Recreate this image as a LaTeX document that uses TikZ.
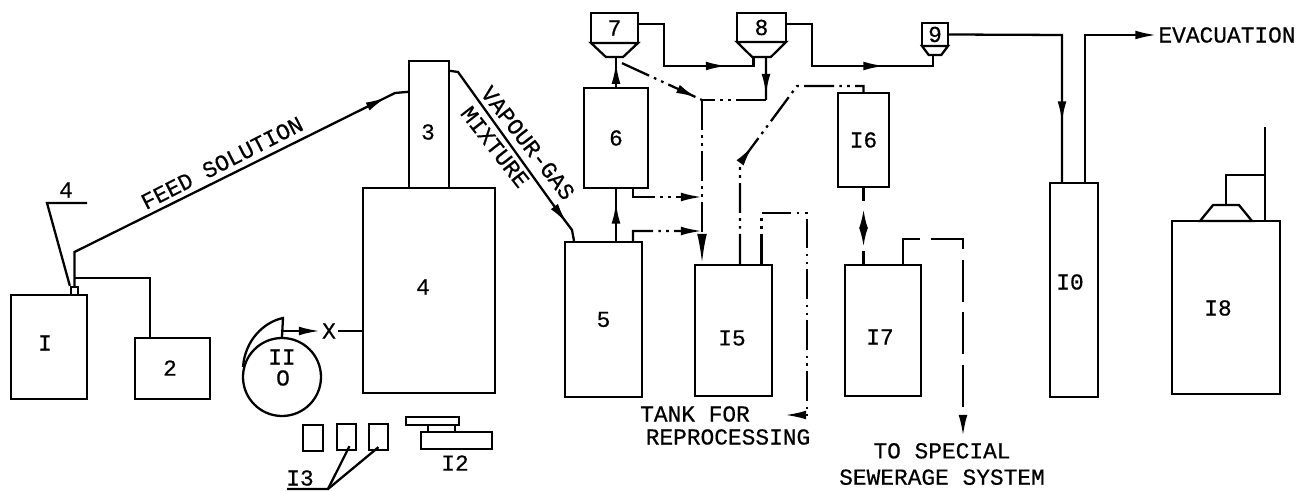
\documentclass[tikz,border=0pt]{standalone}
\usepackage{fontspec}
\setmainfont[FakeBold=0.5]{Liberation Mono}
\usetikzlibrary{arrows.meta,calc,decorations.markings,shapes.geometric}
\tikzset{
  box/.style 2 args={draw,line width=1.3pt,inner sep=0pt,minimum width=#1*0.02cm,minimum height=#2*0.02cm},
  funnel/.style n args={3}{draw,line width=1.3pt,inner sep=1pt,trapezium,trapezium stretches=true,
    trapezium angle=#3,minimum width=#1*0.02cm,minimum height=#2*0.02cm},
  pipe/.style={line width=1.3pt},
  dashdots/.style={pipe,dash pattern=on 17pt off 3pt on 1.5pt off 3pt on 1.5pt off 3pt},
  longdash/.style={pipe,dash pattern=on 24pt off 6pt},
  tip/.style={-{Latex[length=12pt,width=5pt]}},
  bigtip/.style={-{Latex[length=17pt,width=5.5pt]}},
  bothtips/.style={{Latex[length=11pt,width=5pt]}-{Latex[length=11pt,width=5pt]}},
  headat/.style={postaction={decorate,decoration={markings,
    mark=at position #1 with {\arrow{Latex[length=12pt,width=5pt]}}}}},
  lettering/.style={inner sep=1pt,font=\fontsize{13}{14}\selectfont}
}
\begin{document}
\begin{tikzpicture}[x=0.02cm,y=-0.02cm,every node/.append style={lettering}]
  \useasboundingbox (0,0) rectangle (1312,492);
  % feed side
  \node[box={76}{104}] (one) at (49,347) {};
  \node (onelabel) at (45,343) {I};
  \node[box={75}{61}] (two) at (172.5,368.5) {};
  \node (twolabel) at (170,368) {2};
  \node[box={7}{8}] (nozzle) at (74.5,291) {};
  \coordinate (tee) at (74.5,278);
  \node (leaderlabel) at (66,190) {4};
  \draw[pipe] (nozzle.north west) -- (47,203) -- (87,203);
  \draw[pipe] (tee) -- (150,278) -- ($(two.north)+(-22.5,0)$);
  \node[box={40}{127}] (three) at (429,124.5) {};
  \node (threelabel) at (428,132) {3};
  \node[box={132}{205}] (four) at (429,290.5) {};
  \node (fourlabel) at (423,287) {4};
  \draw[pipe,headat=0.945] (nozzle.north) -- (74.5,252) -- (395,93) -- ($(three.north west)+(0,32)$);
  \node[rotate=27] (feed) at (222,163) {FEED SOLUTION};
  % camera and recorder
  \node[box={78}{78},circle] (eleven) at (282,377) {};
  \node (elevenlabel) at (282,357) {II};
  \node (lens) at (283,378) {O};
  \draw[pipe] (eleven.north) -- (283,318) .. controls (264,322) and (245,340) .. (243,367);
  \coordinate (shroud) at (283,331);
  \node (xray) at (329,331) {X};
  \draw[pipe,tip] (shroud) -- (xray.west);
  \draw[pipe] (xray.east) -- (xray.east -| four.west);
  \node[box={20}{26}] (filma) at (313,438) {};
  \node[box={19}{26}] (filmb) at (346.5,437) {};
  \node[box={19}{26}] (filmc) at (378.5,437) {};
  \node (thirteen) at (300,478) {I3};
  \coordinate (thirteenend) at (287,489);
  \coordinate (thirteenfork) at (328,489);
  \draw[pipe] (thirteenend) -- (thirteenfork) -- ($(filmb.south)+(3,-5)$);
  \draw[pipe] (thirteenfork) -- ($(filmc.south)+(0,-4)$);
  \node[box={53}{8}] (plate) at (432.5,421) {};
  \node[box={27}{7}] (neck) at (441.5,428.5) {};
  \node[box={71}{17}] (twelve) at (456.5,440.5) {};
  \node (twelvelabel) at (455,463) {I2};
  % scrubbers
  \node[box={77}{155}] (five) at (603.5,319.5) {5};
  \node[box={64}{100}] (six) at (616,138) {6};
  \node[box={47}{30}] (seven) at (614.5,28) {7};
  \node[funnel={47}{14}{49},shape border rotate=180] (sevenf) at (614.5,50) {};
  \node[box={49}{29}] (eight) at (761.5,27.5) {8};
  \node[funnel={49}{15}{51},shape border rotate=180] (eightf) at (761.5,49.5) {};
  \node[box={26}{23}] (nine) at (935,34.5) {9};
  \node[funnel={26}{9}{62},shape border rotate=180] (ninef) at (935,50.5) {};
  \draw[pipe,headat=0.91] ($(three.north east)+(0,11)$) -- (458,72) -- (557,210) -- (572,230) -- ($(five.north)+(-29.5,0)$);
  \node[rotate=-52] (vapour) at (528,143) {VAPOUR-GAS};
  \node[rotate=-52] (mixture) at (495,147) {MIXTURE};
  \draw[pipe,headat=0.74] (six.south |- five.north) -- (six.south);
  \draw[pipe,headat=0.84] (six.north) -- (six.north |- sevenf.top side);
  \draw[pipe,headat=0.79] ($(seven.east)+(0,-4)$) -- (664,24) -- (664,66) -- (753.5,66) -- ($(eightf.top side)+(-8,0)$);
  \draw[pipe,headat=0.705] ($(eight.east)+(0,-3.5)$) -- (812,24) -- (812,66) -- (933,66) -- ($(ninef.top side)+(-2,0)$);
  % drain lines
  \node[box={77}{131}] (fifteen) at (733.5,330.5) {};
  \node (fifteenlabel) at (732,338) {I5};
  \node[box={51}{94}] (sixteen) at (863.5,140) {I6};
  \node[box={76}{131}] (seventeen) at (883,330.5) {};
  \node (seventeenlabel) at (880,337) {I7};
  \coordinate (split) at (702,100);
  \coordinate (sixtap) at (702,197);
  \coordinate (fivetap) at (702,231);
  \coordinate (valve) at (766,100);
  \coordinate (spindletop) at (863.5,209);
  \coordinate (spindlebottom) at (863.5,247);
  \draw[pipe,headat=0.88] ($(eightf.top side)+(4.5,0)$) -- (valve);
  \draw[dashdots] (valve) -- (split);
  \draw[dashdots,headat=0.94] ($(sevenf.top side)+(7.5,5)$) -- (split);
  \draw[dashdots,bigtip] (split) -- (split |- fifteen.north);
  \draw[dashdots,tip] ($(six.south)+(17,0)$) -- (633,197) -- (sixtap);
  \draw[dashdots,tip] ($(five.north)+(29.5,0)$) -- (633,231) -- (fivetap);
  \draw[dashdots,headat=0.454] ($(fifteen.north)+(6.5,0)$) -- (740,163) -- (797,86) -- (863.5,86) -- (sixteen.north);
  \draw[dashdots,tip] ($(fifteen.north)+(28,0)$) -- (761.5,213) -- (807,213) -- (807,415) -- (785,415);
  \draw[pipe] (sixteen.south) -- ($(spindletop)+(0,-8)$);
  \draw[pipe,bothtips] (spindletop) -- (spindlebottom);
  \draw[pipe] ($(spindlebottom)+(0,4)$) -- (sixteen.south |- seventeen.north);
  \draw[longdash,tip] ($(seventeen.north)+(20,0)$) -- (903,239) -- (963,239) -- (963,436);
  \node (tank) at (695,414) {TANK FOR};
  \node (reproc) at (728,437) {REPROCESSING};
  \node[align=center] (sewer) at (942,464) {TO SPECIAL\\[1pt]SEWERAGE SYSTEM};
  % absorber and evacuation
  \node[box={48}{214}] (ten) at (1074,290) {};
  \node (tenlabel) at (1070,282) {I0};
  \node (evac) at (1227,35) {EVACUATION};
  \draw[pipe,headat=0.771] (nine.east) -- (1062,35) -- ($(ten.north)+(-12,0)$);
  \draw[pipe,tip] ($(ten.north)+(11,0)$) -- (1085,35) -- (evac.west);
  % stack
  \node[box={108}{173}] (eighteen) at (1226,307.5) {};
  \node (eighteenlabel) at (1218,308) {I8};
  \node[funnel={52}{16}{63}] (hood) at (1226,213) {};
  \coordinate (stacktop) at (1265,127);
  \coordinate (stacktee) at (1265,175);
  \draw[pipe] ($(eighteen.north)+(39,0)$) -- (stacktop);
  \draw[pipe] (hood.north) -- (1226,175) -- (stacktee);
\end{tikzpicture}
\end{document}
